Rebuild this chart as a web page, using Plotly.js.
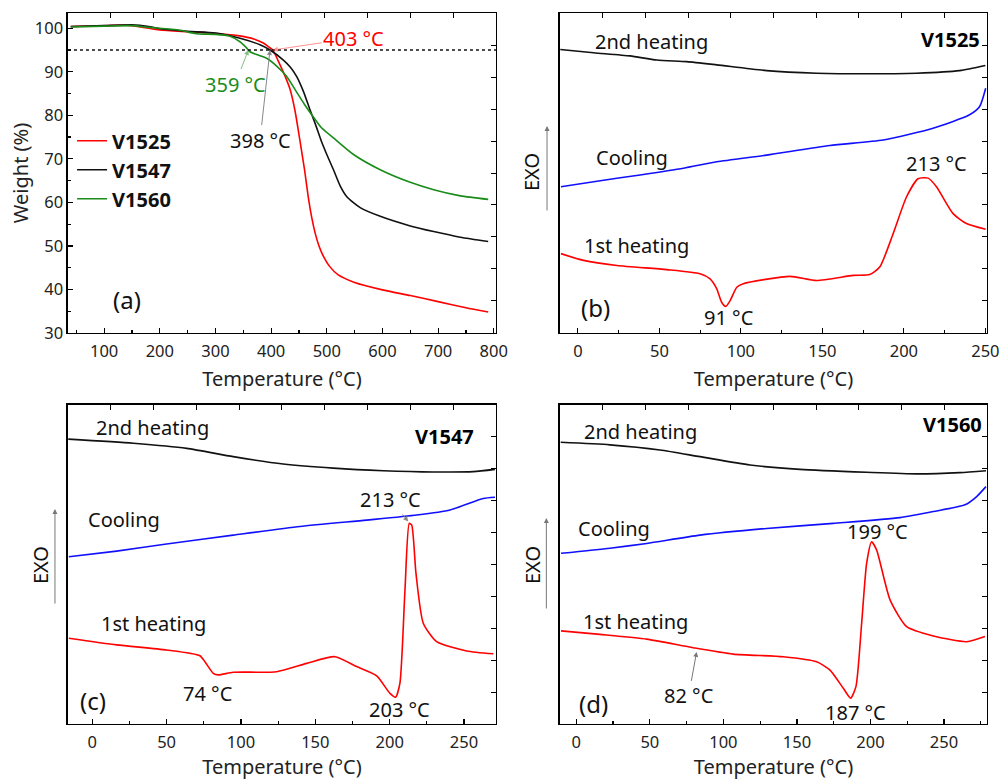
<!DOCTYPE html>
<html><head><meta charset="utf-8">
<script src="https://cdn.plot.ly/plotly-3.0.1.min.js"></script>
<style>html,body{margin:0;padding:0;background:#fff}#chart{width:1001px;height:780px}</style>
</head><body><div id="chart"></div>
<script>
// ---- (a) TGA data: temperature (°C) / weight (%) ----
const v1525T = [40,80,140,170,200,250,290,340,370,386,395,403,416,425,434,443,452,460,467,473,479,486,494,505,520,550,600,650,700,750,790];
const v1525W = [100.4,100.5,100.7,100.2,99.6,99.2,98.9,98.3,97.5,96.6,95.8,95.0,91.6,89.0,86.0,81.0,74.0,67.5,61.0,56.5,53.0,50.0,47.6,45.3,43.4,41.6,39.9,38.6,37.2,35.8,34.8];
const v1547T = [40,100,150,180,200,250,300,344,380,398,422,435,446,458,470,480,491,500,512,524,536,560,596,650,692,740,790];
const v1547W = [100.4,100.6,100.8,100.4,99.9,99.3,98.9,97.7,96.2,95.0,92.7,91.0,88.9,85.5,81.2,77.8,73.8,71.0,67.5,63.8,61.3,58.8,56.8,54.6,53.3,52.0,51.0];
const v1560T = [40,100,150,180,210,240,255,270,300,325,344,355,362,375,392,410,428,445,460,476,490,512,548,596,650,692,740,790];
const v1560W = [100.3,100.5,100.6,100.2,99.9,99.5,99.0,98.7,98.6,98.2,96.9,95.6,94.6,93.9,93.1,91.3,88.9,85.5,82.5,79.6,77.2,74.8,71.0,67.5,64.6,62.9,61.5,60.7];
const tgaNames = ['V1525','V1547','V1560'];
const t5Level = 95;               // 5 % weight-loss reference line
const t5Temps = [403, 398, 359];  // annotated T5% values

// ---- (b) V1525 DSC (arbitrary heat-flow units, EXO up) ----
const b2T = [-10.8,9.6,32,48.4,66.8,85.2,115.8,146.4,177,207.7,234.2,250];
const b2Y = [88.6,87.6,86.6,85.3,84.8,83.8,82.0,81.2,81.0,81.2,82.0,83.6];
const bCT = [-10.4,13.7,38.2,64.8,85.2,115.8,154.6,187.3,217.9,240.3,246.5,250.2];
const bCY = [45.7,47.6,49.4,51.5,53.5,55.6,58.6,60.3,64.0,68.2,70.8,76.5];
const b1T = [-10.4,3.5,23.9,54.5,75,81.1,85.2,88.2,90.7,93.4,97.5,101.5,130.1,146.4,168.9,179.1,185.2,193.4,201.6,208.7,214.9,220,230.2,238.4,250.2];
const b1Y = [24.8,22.7,21.1,19.8,18.5,16.9,13.8,9.6,8.3,10.1,14.3,15.4,17.7,16.4,18.0,18.3,20.6,31.0,42.5,48.2,48.4,45.7,37.3,34.2,32.4];

// ---- (c) V1547 DSC ----
const c2T = [-16.1,27.6,63.5,94.8,128.4,162.1,195.7,229.3,256.2,270.8];
const c2Y = [89.3,88.0,86.4,83.8,81.5,80.2,79.4,79.0,79.1,79.8];
const cCT = [-15.7,16.4,50,94.8,139.7,184.5,218.2,240.6,262.9,270.8];
const cCY = [52.4,54.2,56.4,59.2,61.9,63.9,65.5,67.1,70.7,71.1];
const c1T = [-15.7,16.4,50,72.4,75.8,81.4,84.7,94.8,124,144.2,163.2,177.8,191.3,200.2,204,206.9,210.3,213.2,214.8,217.7,222.6,231.6,251.8,269.7];
const c1Y = [26.9,24.8,23.2,21.4,19.5,15.9,15.4,16.2,16.4,19.0,21.1,18.0,15.1,9.6,8.4,12.8,42.0,62.9,62.4,47.2,31.6,25.8,22.9,22.0];

// ---- (d) V1560 DSC ----
const d2T = [-10.6,22.9,56.9,84.1,118.1,152.1,197.4,231.4,260.8,278.5];
const d2Y = [88.3,87.5,85.9,83.8,81.2,79.8,78.9,78.4,78.8,79.4];
const dCT = [-10.4,22.9,47.9,84.1,129.4,174.7,220,242.7,264.2,272.2,278.5];
const dCY = [53.5,55.1,56.6,59.2,61.3,62.9,64.7,66.6,68.7,71.3,74.4];
const d1T = [-10.4,16.1,47.9,79.5,106.7,140.7,163.4,172.5,181.5,186.5,190.1,194,197.4,200.8,204.2,213.3,224.6,242.7,265.4,277.8];
const d1Y = [29.2,28.1,26.6,23.9,21.9,21.1,19.5,16.9,11.2,8.1,11.7,31.6,50.4,57.1,54.5,38.9,30.5,27.6,25.8,27.4];

const RED = '#ff0000', BLACK = '#111111', GREEN = '#1a8c1a', BLUE = '#1010ff';
const FONT = 'Noto Sans, Open Sans, sans-serif';

function line(x, y, color, xa, ya, name, show) {
  return {type:'scatter', mode:'lines', x:x, y:y, name:name, showlegend:!!show,
    xaxis:xa, yaxis:ya, line:{color:color, width:1.6, shape:'spline', smoothing:0.6},
    hoverinfo:'x+y'};
}
// empty helper traces so the frame (top/right tick) axes are always drawn
function frame(xa, ya) {
  return {type:'scatter', mode:'lines', x:[], y:[], xaxis:xa, yaxis:ya, showlegend:false, hoverinfo:'skip'};
}

const data = [
  line(v1525T, v1525W, RED,   'x','y', tgaNames[0], true),
  line(v1547T, v1547W, BLACK, 'x','y', tgaNames[1], true),
  line(v1560T, v1560W, GREEN, 'x','y', tgaNames[2], true),
  line(b2T, b2Y, BLACK, 'x2','y2','2nd heating'),
  line(bCT, bCY, BLUE,  'x2','y2','Cooling'),
  line(b1T, b1Y, RED,   'x2','y2','1st heating'),
  line(c2T, c2Y, BLACK, 'x3','y3','2nd heating'),
  line(cCT, cCY, BLUE,  'x3','y3','Cooling'),
  line(c1T, c1Y, RED,   'x3','y3','1st heating'),
  line(d2T, d2Y, BLACK, 'x4','y4','2nd heating'),
  line(dCT, dCY, BLUE,  'x4','y4','Cooling'),
  line(d1T, d1Y, RED,   'x4','y4','1st heating'),
  frame('x5','y5'), frame('x6','y6'), frame('x7','y7'), frame('x8','y8')
];

const XL = [0.0679, 0.4955], XR = [0.5594, 0.9860];
const YT = [0.5731, 0.9833], YB = [0.0718, 0.4808];

const base = {showline:true, mirror:true, linecolor:'#000', linewidth:1.5, zeroline:false,
  showgrid:false, ticks:'inside', ticklen:5, tickcolor:'#000', tickwidth:1.2,
  tickfont:{family:FONT, size:16.5, color:'#222'}};
const xTitle = {text:'Temperature (°C)', font:{family:FONT, size:20, color:'#222'}, standoff:10};

function xax(domain, anchor, range, dtick, minor) {
  return Object.assign({}, base, {domain:domain, anchor:anchor, range:range, tick0:0, dtick:dtick,
    ticklabelstandoff:3,
    minor:{ticks:'inside', dtick:minor, ticklen:3, tickcolor:'#000', showgrid:false},
    title:xTitle});
}
function dscY(domain, anchor) {
  return Object.assign({}, base, {domain:domain, anchor:anchor, range:[0,100], ticks:'', showticklabels:false});
}
function topAx(over, anchor) {
  return {overlaying:over, anchor:anchor, side:'top', range:[0,1], tick0:0, dtick:0.1, ticks:'inside',
    ticklen:5, tickcolor:'#000', showticklabels:false, showline:false, showgrid:false, zeroline:false, fixedrange:true};
}
function rightAx(over, anchor) {
  return {overlaying:over, anchor:anchor, side:'right', range:[0,1], tick0:0, dtick:0.1, ticks:'inside',
    ticklen:5, tickcolor:'#000', showticklabels:false, showline:false, showgrid:false, zeroline:false, fixedrange:true};
}

const ann = [];
function txt(xref, yref, x, y, text, opts) {
  ann.push(Object.assign({xref:xref, yref:yref, x:x, y:y, text:text, showarrow:false,
    xanchor:'center', yanchor:'middle',
    font:{family:FONT, size:20, color:'#111'}}, opts || {}));
}
function arrow(xref, yref, x, y, ax, ay, text, color, fontColor) {
  ann.push({xref:xref, yref:yref, x:x, y:y, ax:ax, ay:ay, text:text, showarrow:true,
    arrowhead:2, arrowsize:1, arrowwidth:1, arrowcolor:color, standoff:0,
    font:{family:FONT, size:20, color:fontColor}});
}

// (a)
arrow('x','y', t5Temps[0], t5Level, 81, -12, '403 °C', 'rgba(255,60,60,0.55)', RED);
arrow('x','y', t5Temps[2], t5Level, -13, 34, '359 °C', 'rgba(30,140,30,0.55)', GREEN);
arrow('x','y', t5Temps[1], t5Level, -10, 90, '398 °C', '#888', '#111');
txt('x','y', 141, 37.6, '(a)', {font:{family:FONT, size:24, color:'#111'}});

// (b)
txt('x2','y2', 9.4, 91.0, '2nd heating', {xanchor:'left'});
txt('x2','y2', 248.2, 91.6, 'V1525', {xanchor:'right', font:{family:FONT, size:20, color:'#000', weight:'bold'}});
txt('x2','y2', 10, 55.0, 'Cooling', {xanchor:'left'});
txt('x2','y2', 2.5, 27.2, '1st heating', {xanchor:'left'});
txt('x2','y2', 220.2, 53.1, '213 °C');
txt('x2','y2', 92.7, 4.7, '91 °C');
txt('x2','y2', 10.6, 8.1, '(b)', {font:{family:FONT, size:24, color:'#111'}});

// (c)
txt('x3','y3', 1.3, 92.9, '2nd heating', {xanchor:'left'});
txt('x3','y3', 258, 90.1, 'V1547', {xanchor:'right', font:{family:FONT, size:20, color:'#000', weight:'bold'}});
txt('x3','y3', -4.2, 64.2, 'Cooling', {xanchor:'left'});
txt('x3','y3', 4.7, 31.6, '1st heating', {xanchor:'left'});
arrow('x3','y3', 212.5, 63.5, -18, -22, '213 °C', '#888', '#111');
txt('x3','y3', 77.6, 9.6, '74 °C');
txt('x3','y3', 206.9, 4.6, '203 °C');
txt('x3','y3', 0.7, 7.5, '(c)', {font:{family:FONT, size:24, color:'#111'}});

// (d)
txt('x4','y4', 3.7, 91.6, '2nd heating', {xanchor:'left'});
txt('x4','y4', 277.2, 94.0, 'V1560', {xanchor:'right', font:{family:FONT, size:20, color:'#000', weight:'bold'}});
txt('x4','y4', -0.2, 61.3, 'Cooling', {xanchor:'left'});
txt('x4','y4', 3.2, 32.1, '1st heating', {xanchor:'left'});
txt('x4','y4', 204.6, 60.3, '199 °C');
arrow('x4','y4', 81.8, 22.6, -8, 44, '82 °C', '#777', '#111');
txt('x4','y4', 189.5, 3.5, '187 °C');
txt('x4','y4', 11.6, 6.5, '(d)', {font:{family:FONT, size:24, color:'#111'}});

// EXO labels with upward arrows
[[0.5315, 0.7795, 0.5465, 0.8385, 86], [0.040, 0.2756, 0.0549, 0.3474, 96], [0.5315, 0.2756, 0.5458, 0.3359, 92]].forEach(function(e){
  txt('paper','paper', e[0], e[1], 'EXO', {textangle:-90});
  ann.push({xref:'paper', yref:'paper', x:e[2], y:e[3], ax:0, ay:e[4], text:'', showarrow:true,
    arrowhead:2, arrowsize:1, arrowwidth:1, arrowcolor:'#777', standoff:0});
});

const layout = {
  width:1001, height:780, margin:{l:0, r:0, t:0, b:0},
  paper_bgcolor:'#fff', plot_bgcolor:'#fff',
  font:{family:FONT, color:'#111'},
  showlegend:true,
  legend:{x:0.072, y:0.8445, xanchor:'left', yanchor:'top', bgcolor:'rgba(0,0,0,0)',
    font:{family:FONT, size:20, color:'#111', weight:'bold'}, tracegroupgap:0, itemwidth:30},
  xaxis: xax(XL, 'y', [35, 804], 100, 50),
  yaxis: Object.assign({}, base, {domain:YT, anchor:'x', range:[30,103.5], tick0:0, dtick:10,
    minor:{ticks:'inside', dtick:5, ticklen:3, tickcolor:'#000', showgrid:false},
    title:{text:'Weight (%)', font:{family:FONT, size:20, color:'#222'}, standoff:1}}),
  xaxis2: xax(XR, 'y2', [-11, 251], 50, 25),
  yaxis2: dscY(YT, 'x2'),
  xaxis3: xax(XL, 'y3', [-16.3, 271.5], 50, 25),
  yaxis3: dscY(YB, 'x3'),
  xaxis4: xax(XR, 'y4', [-11.1, 279.2], 50, 25),
  yaxis4: dscY(YB, 'x4'),
  xaxis5: topAx('x', 'y5'),  yaxis5: rightAx('y', 'x5'),
  xaxis6: topAx('x2', 'y6'), yaxis6: rightAx('y2', 'x6'),
  xaxis7: topAx('x3', 'y7'), yaxis7: rightAx('y3', 'x7'),
  xaxis8: topAx('x4', 'y8'), yaxis8: rightAx('y4', 'x8'),
  shapes:[{type:'line', xref:'x domain', yref:'y', x0:0, x1:1, y0:t5Level, y1:t5Level,
    line:{color:'#111', width:1.5, dash:'dot'}}],
  annotations: ann
};

Plotly.newPlot('chart', data, layout, {staticPlot:true, displayModeBar:false});
</script></body></html>
